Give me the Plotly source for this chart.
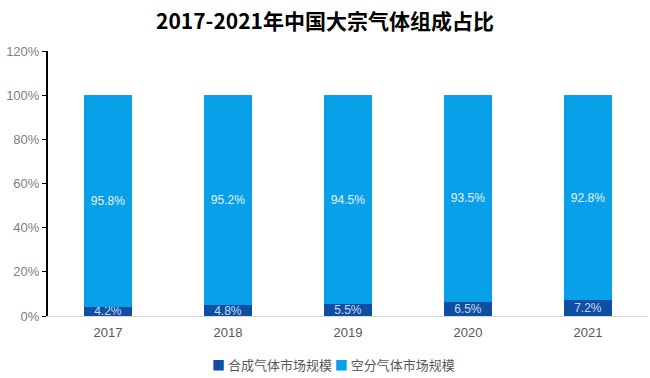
import plotly.graph_objects as go

years = ["2017", "2018", "2019", "2020", "2021"]
synth = [4.2, 4.8, 5.5, 6.5, 7.2]
air = [95.8, 95.2, 94.5, 93.5, 92.8]
names = ["合成气体市场规模", "空分气体市场规模"]
colors = ["#0F4FA3", "#08A0E8"]
title = "2017-2021年中国大宗气体组成占比"

font = "Noto Sans CJK SC"
fig = go.Figure()
fig.add_trace(go.Bar(x=years, y=synth, name=names[0], marker=dict(color=colors[0], line=dict(width=0)),
                     text=[f"{v}%" for v in synth], textposition="inside", insidetextanchor="middle",
                     constraintext="none",
                     textfont=dict(color="#C8DAF0", size=12, family="Liberation Sans"), width=0.4))
fig.add_trace(go.Bar(x=years, y=air, name=names[1], marker=dict(color=colors[1], line=dict(width=0)),
                     text=[f"{v}%" for v in air], textposition="inside", insidetextanchor="middle",
                     constraintext="none",
                     textfont=dict(color="#E6F2FA", size=12, family="Liberation Sans"), width=0.4))

legend_text = (f"<span style='color:{colors[0]}'>■</span> {names[0]} "
               f"<span style='color:{colors[1]}'>■</span> {names[1]}")
fig.add_annotation(text=legend_text, xref="paper", yref="paper", x=0.475, y=-0.183,
                   xanchor="center", yanchor="middle", showarrow=False,
                   font=dict(family=font, size=13, color="#595959"))

fig.update_layout(
    barmode="stack",
    width=650, height=378,
    margin=dict(l=48, r=2, t=51, b=62, autoexpand=False),
    paper_bgcolor="white", plot_bgcolor="white",
    title=dict(text=title, x=0.5, xanchor="center", y=0.943, yanchor="middle",
               font=dict(family=font, size=21, color="#000000", weight="bold")),
    font=dict(family=font, color="#595959"),
    showlegend=False,
    uniformtext=dict(mode=False),
)
fig.update_yaxes(range=[0, 120], dtick=20, ticksuffix="%", showgrid=False, automargin=False,
                 showline=True, linecolor="#000000", linewidth=2, ticks="outside", ticklen=4,
                 tickcolor="#000000", tickfont=dict(family="Liberation Sans", size=13, color="#808080"))
fig.update_xaxes(showline=True, linecolor="#D9D9D9", linewidth=1, automargin=False,
                 ticklabelstandoff=4,
                 tickfont=dict(family="Liberation Sans", size=13, color="#595959"))
fig.write_html("out.html", config={"displayModeBar": False},
               post_script="document.body.style.margin='0';")
